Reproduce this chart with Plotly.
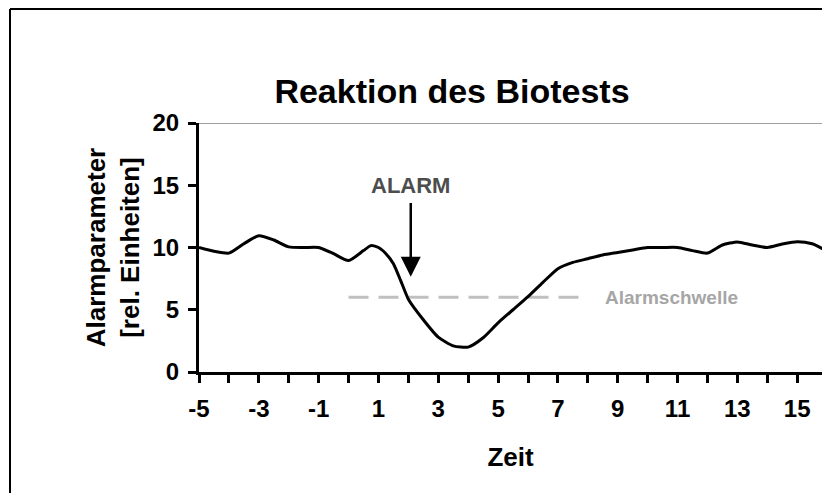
import plotly.graph_objects as go

# ---- data ----
zeit = [-5, -4.5, -4, -3.5, -3, -2.5, -2, -1.5, -1, -0.5, 0, 0.5, 0.75, 1, 1.25, 1.5, 1.75,
        2, 2.5, 3, 3.5, 4, 4.5, 5, 5.5, 6, 6.5, 7, 7.5, 8, 8.5, 9, 9.5, 10, 10.5, 11, 11.5,
        12, 12.5, 13, 13.5, 14, 14.5, 15, 15.5, 16]
alarmparameter = [10.0, 9.7, 9.55, 10.3, 10.95, 10.6, 10.05, 10.0, 10.0, 9.5, 8.95, 9.75, 10.15,
                  10.0, 9.5, 8.7, 7.3, 5.85, 4.2, 2.8, 2.1, 2.0, 2.75, 3.95, 5.0, 6.05, 7.2,
                  8.3, 8.8, 9.1, 9.4, 9.6, 9.8, 10.0, 10.0, 10.0, 9.75, 9.55, 10.2, 10.45, 10.2,
                  10.0, 10.28, 10.47, 10.3, 9.7]

schwelle_x = [0, 8]
schwelle_y = [6, 6]

x_ticks = list(range(-5, 16))
x_tick_labels = [str(v) if v % 2 else "" for v in x_ticks]
y_ticks = [0, 5, 10, 15, 20]
y_tick_labels = ["0", "5", "10", "15", "20"]

alarm_x = 2.08
alarm_text_y = 15
alarm_arrow_start = 13.7
alarm_arrow_tip = 7.65

FONT = "Liberation Sans, Arial, sans-serif"

W, H = 822, 493
L, T, B = 199, 123, 121
PW = W - L            # plot width (r = 0)
PH = H - T - B        # plot height

fig = go.Figure()

fig.add_trace(go.Scatter(
    x=schwelle_x, y=schwelle_y, mode="lines",
    line=dict(color="#C0C0C0", width=3, dash="20px,10px"),
    hoverinfo="skip", showlegend=False))

fig.add_trace(go.Scatter(
    x=zeit, y=alarmparameter, mode="lines",
    line=dict(color="black", width=3, shape="spline", smoothing=0.6),
    showlegend=False))

XR = [-5, 15.83]
YR = [0, 20]

fig.update_layout(
    width=W, height=H,
    margin=dict(l=L, r=0, t=T, b=B, autoexpand=False),
    paper_bgcolor="white", plot_bgcolor="white",
    font=dict(family=FONT, color="black"),
    title=dict(text="Reaktion des Biotests", x=452 / W, xanchor="center",
               y=1 - 91 / H, yanchor="middle", yref="container", automargin=False,
               font=dict(size=34, weight="bold", family=FONT, color="black")),
    xaxis=dict(range=XR, showline=True, linecolor="black", linewidth=3,
               showgrid=False, zeroline=False, automargin=False,
               tickmode="array", tickvals=x_ticks, ticktext=x_tick_labels,
               ticks="outside", ticklen=8, tickwidth=2.5, tickcolor="black",
               ticklabelstandoff=5,
               tickfont=dict(size=24, weight="bold", family=FONT),
               title=dict(text="Zeit", standoff=28,
                          font=dict(size=26, weight="bold", family=FONT))),
    yaxis=dict(range=YR, showline=True, linecolor="black", linewidth=3,
               showgrid=False, zeroline=False, automargin=False,
               tickmode="array", tickvals=y_ticks, ticktext=y_tick_labels,
               ticks="outside", ticklen=8, tickwidth=2.5, tickcolor="black",
               ticklabelstandoff=4,
               tickfont=dict(size=24, weight="bold", family=FONT),
               title=dict(text="Alarmparameter<br>[rel. Einheiten]", standoff=6,
                          font=dict(size=26, weight="bold", family=FONT))),
    xaxis2=dict(range=XR, overlaying="x", anchor="y", side="bottom",
                showline=False, showgrid=False, zeroline=False, automargin=False,
                tickmode="array", tickvals=x_ticks, showticklabels=False,
                ticks="inside", ticklen=7, tickwidth=2.5, tickcolor="black"),
    yaxis2=dict(range=YR, overlaying="y", anchor="x", side="left",
                showline=False, showgrid=False, zeroline=False, automargin=False,
                tickmode="array", tickvals=y_ticks, showticklabels=False,
                ticks="inside", ticklen=6, tickwidth=2.5, tickcolor="black"),
)

# grey top border of plot area at y = 20
fig.add_shape(type="line", xref="paper", x0=0, x1=1, yref="y", y0=YR[1], y1=YR[1],
              line=dict(color="#808080", width=1.5), layer="below")

# outer frame of the chart: only its top and left edges are inside the picture
frame_left = (10 - L) / PW
frame_top = (H - B - 9) / PH
fig.add_shape(type="line", xref="paper", yref="paper",
              x0=frame_left, x1=1.05, y0=frame_top, y1=frame_top,
              line=dict(color="black", width=2))
fig.add_shape(type="line", xref="paper", yref="paper",
              x0=frame_left, x1=frame_left, y0=frame_top, y1=-0.6,
              line=dict(color="black", width=2))

fig.add_annotation(x=alarm_x, y=alarm_text_y, text="ALARM", showarrow=False,
                   font=dict(size=22, weight="bold", family=FONT, color="#4D4D4D"))
fig.add_annotation(x=alarm_x, y=alarm_arrow_tip, ax=alarm_x, ay=alarm_arrow_start,
                   axref="x", ayref="y", text="", showarrow=True,
                   arrowhead=2, arrowsize=1.6, arrowwidth=2.5, arrowcolor="black")
fig.add_annotation(x=8.5, y=schwelle_y[1], text="Alarmschwelle", showarrow=False,
                   xanchor="left", yanchor="middle",
                   font=dict(size=19, weight="bold", family=FONT, color="#A6A6A6"))

fig.write_html("out.html",
               config={"displayModeBar": False},
               post_script="document.body.style.margin='0';"
                           "document.body.style.overflow='hidden';")
